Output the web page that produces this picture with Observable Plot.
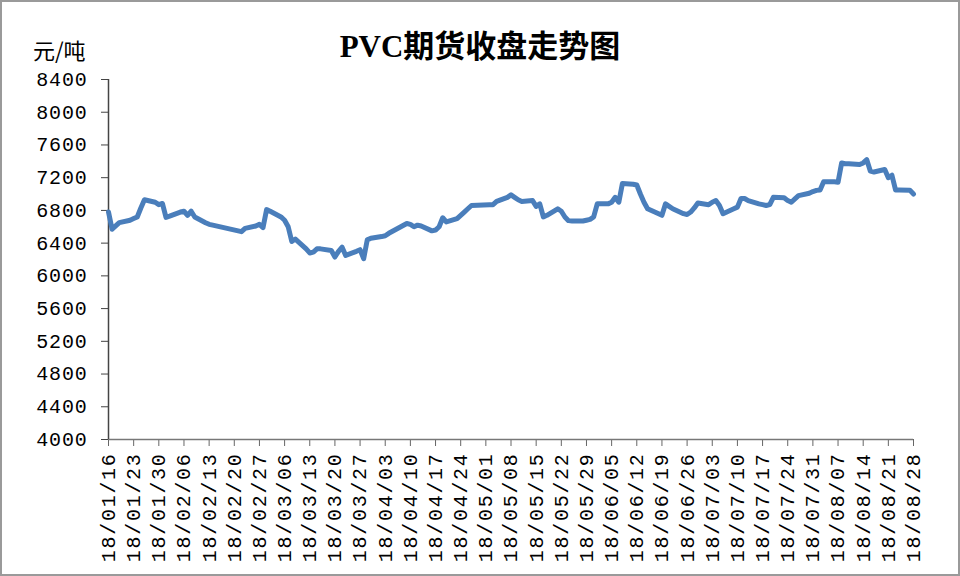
<!DOCTYPE html>
<html><head><meta charset="utf-8">
<script src="https://cdn.jsdelivr.net/npm/d3@7"></script>
<script src="https://cdn.jsdelivr.net/npm/@observablehq/plot@0.6"></script>
<style>
body{margin:0;background:#fff;}
#wrap{position:relative;width:960px;height:576px;overflow:hidden;background:#fff;}
#frame{position:absolute;left:0;top:0;width:960px;height:576px;box-sizing:border-box;border:2px solid #9a9a9a;pointer-events:none;}
#title{position:absolute;left:0;width:960px;top:21px;text-align:center;font-weight:bold;font-size:31px;font-family:"Liberation Serif","Noto Sans CJK SC",serif;color:#000;}
#unit{position:absolute;left:33px;top:33px;font-size:22px;font-family:"Noto Sans CJK SC",sans-serif;color:#000;}
#chart{position:absolute;left:0;top:0;}
#chart svg text{letter-spacing:0.8px;}
#chart svg g[aria-label="x-axis tick label"] text{letter-spacing:1.7px;}
</style></head>
<body>
<div id="wrap">
  <div id="chart"></div>
  <div id="title">PVC期货收盘走势图</div>
  <div id="unit">元/吨</div>
  <div id="frame"></div>
</div>
<script>
const dates = [
"2018-01-16","2018-01-17","2018-01-18","2018-01-19","2018-01-22","2018-01-23","2018-01-24","2018-01-25","2018-01-26","2018-01-29","2018-01-30","2018-01-31",
"2018-02-01","2018-02-02","2018-02-05","2018-02-06","2018-02-07","2018-02-08","2018-02-09","2018-02-12","2018-02-13","2018-02-14","2018-02-22","2018-02-23","2018-02-26","2018-02-27","2018-02-28",
"2018-03-01","2018-03-02","2018-03-05","2018-03-06","2018-03-07","2018-03-08","2018-03-09","2018-03-12","2018-03-13","2018-03-14","2018-03-15","2018-03-16","2018-03-19","2018-03-20","2018-03-21","2018-03-22","2018-03-23","2018-03-26","2018-03-27","2018-03-28","2018-03-29","2018-03-30",
"2018-04-02","2018-04-03","2018-04-04","2018-04-09","2018-04-10","2018-04-11","2018-04-12","2018-04-13","2018-04-16","2018-04-17","2018-04-18","2018-04-19","2018-04-20","2018-04-23","2018-04-24","2018-04-25","2018-04-26","2018-04-27",
"2018-05-02","2018-05-03","2018-05-04","2018-05-07","2018-05-08","2018-05-09","2018-05-10","2018-05-11","2018-05-14","2018-05-15","2018-05-16","2018-05-17","2018-05-18","2018-05-21","2018-05-22","2018-05-23","2018-05-24","2018-05-25","2018-05-28","2018-05-29","2018-05-30","2018-05-31",
"2018-06-01","2018-06-04","2018-06-05","2018-06-06","2018-06-07","2018-06-08","2018-06-11","2018-06-12","2018-06-13","2018-06-14","2018-06-15","2018-06-19","2018-06-20","2018-06-21","2018-06-22","2018-06-25","2018-06-26","2018-06-27","2018-06-28","2018-06-29",
"2018-07-02","2018-07-03","2018-07-04","2018-07-05","2018-07-06","2018-07-09","2018-07-10","2018-07-11","2018-07-12","2018-07-13","2018-07-16","2018-07-17","2018-07-18","2018-07-19","2018-07-20","2018-07-23","2018-07-24","2018-07-25","2018-07-26","2018-07-27","2018-07-30","2018-07-31",
"2018-08-01","2018-08-02","2018-08-03","2018-08-06","2018-08-07","2018-08-08","2018-08-09","2018-08-10","2018-08-13","2018-08-14","2018-08-15","2018-08-16","2018-08-17","2018-08-20","2018-08-21","2018-08-22","2018-08-23","2018-08-24","2018-08-27","2018-08-28"
];
const closes = [
6780,6570,6610,6650,6680,6700,6720,6830,6930,6900,6870,6885,
6715,6730,6780,6790,6740,6790,6720,6650,6630,6620,6540,6580,6610,6630,6590,
6810,6790,6720,6680,6600,6420,6450,6330,6280,6290,6330,6330,6310,6230,6300,6350,6250,6300,6320,6210,6440,6460,
6480,6490,6520,6640,6630,6600,6620,6610,6550,6560,6600,6710,6660,6700,6740,6780,6820,6860,
6870,6870,6910,6960,6990,6960,6930,6910,6920,6850,6880,6720,6740,6820,6790,6720,6675,6670,6670,6680,6690,6720,
6880,6880,6900,6960,6900,7130,7120,7110,7000,6900,6820,6740,6880,6850,6820,6760,6750,6780,6830,6890,
6870,6900,6920,6860,6760,6820,6840,6945,6945,6920,6880,6870,6860,6870,6960,6955,6920,6900,6940,6980,7010,7030,
7045,7050,7150,7150,7145,7380,7370,7370,7360,7380,7420,7280,7270,7300,7200,7230,7050,7050,7045,7000
];
const xTickLabels = ["18/01/16","18/01/23","18/01/30","18/02/06","18/02/13","18/02/20","18/02/27","18/03/06","18/03/13","18/03/20","18/03/27","18/04/03","18/04/10","18/04/17","18/04/24","18/05/01","18/05/08","18/05/15","18/05/22","18/05/29","18/06/05","18/06/12","18/06/19","18/06/26","18/07/03","18/07/10","18/07/17","18/07/24","18/07/31","18/08/07","18/08/14","18/08/21","18/08/28"];
const yTicks = [4000,4400,4800,5200,5600,6000,6400,6800,7200,7600,8000,8400];

const parseTick = d3.utcParse("%y/%m/%d");
const xTickDates = xTickLabels.map(parseTick);
const data = dates.map((d, i) => ({date: d3.utcParse("%Y-%m-%d")(d), value: closes[i]}));
const xStart = xTickDates[0], xEnd = xTickDates[xTickDates.length - 1];

const chart = Plot.plot({
  width: 960, height: 576,
  marginLeft: 108, marginRight: 47, marginTop: 79, marginBottom: 137,
  style: {fontFamily: '"Liberation Mono", monospace', fontSize: "20px", color: "#000", background: "transparent", overflow: "visible"},
  x: {type: "utc", domain: [xStart, xEnd]},
  y: {domain: [yTicks[0], yTicks[yTicks.length - 1]]},
  marks: [
    Plot.axisY({ticks: yTicks, tickSize: 7, tickPadding: 14, label: null, tickFormat: d => String(d), stroke: "#444"}),
    Plot.axisX({ticks: xTickDates, tickFormat: d3.utcFormat("%y/%m/%d"), tickRotate: -90, tickSize: 7, tickPadding: 6, label: null, stroke: "#666"}),
    Plot.ruleY([yTicks[0]], {stroke: "#777", strokeWidth: 1.5}),
    Plot.ruleX([xStart], {stroke: "#444", strokeWidth: 1.5}),
    Plot.line(data, {x: "date", y: "value", stroke: "#4a7ebb", strokeWidth: 5, strokeLinejoin: "round", strokeLinecap: "round"})
  ]
});
document.getElementById("chart").appendChild(chart);
</script>
</body></html>
